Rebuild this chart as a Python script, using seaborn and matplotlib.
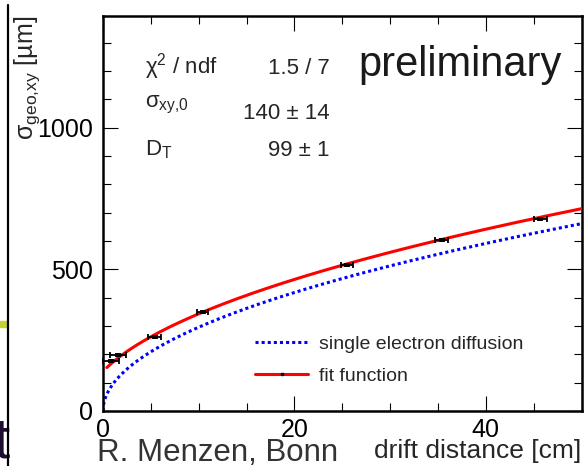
import numpy as np
import pandas as pd
import matplotlib
matplotlib.use("Agg")
import matplotlib.pyplot as plt
from matplotlib.lines import Line2D
from matplotlib.patches import Rectangle
from matplotlib.ticker import MultipleLocator
import seaborn as sns

# ---------------- data ----------------
drift_cm = [0.8, 1.6, 5.4, 10.4, 25.5, 35.4, 45.7]
sigma_um = [177, 197, 262, 350, 516, 604, 677]
drift_err_cm = [0.85, 0.85, 0.7, 0.6, 0.63, 0.7, 0.65]
sigma_err_um = [4, 4, 4, 4, 4, 4, 4]

# fit parameters shown in the chart
sigma0_fit = 140.0      # um
DT_fit = 99.0           # um / sqrt(cm)
DT_single = 93.5        # um / sqrt(cm), single electron diffusion curve
fit_range = (0.4, 50.0)
diff_range = (0.0, 50.0)

x_ticks_major = [0, 20, 40]
y_ticks_major = [0, 500, 1000]

stats_labels = [r"$\mathregular{χ^2}$ / ndf", r"$\mathregular{σ_{xy{,}0}}$", r"$\mathregular{D_T}$"]
stats_values = ["1.5 / 7", "140 ± 14", "99 ± 1"]
legend_labels = ["single electron diffusion", "fit function"]

# ---------------- style ----------------
sns.set_theme(style="ticks")
plt.rcParams["font.family"] = ["Liberation Sans", "DejaVu Sans"]
plt.rcParams["mathtext.fontset"] = "custom"
plt.rcParams["mathtext.rm"] = "Liberation Sans"
plt.rcParams["mathtext.it"] = "Liberation Sans"

W, H = 584, 466
def fx(px):
    return px / W
def fy(py):
    return 1 - py / H

fig = plt.figure(figsize=(W / 100, H / 100), dpi=100)
fig.patch.set_facecolor("white")
ax = fig.add_axes([fx(103), fy(411), (581.5 - 103) / W, (411 - 15.7) / H])

# curves
xf = np.linspace(fit_range[0], fit_range[1], 400)
fit_df = pd.DataFrame({"x": xf, "y": np.sqrt(sigma0_fit ** 2 + DT_fit ** 2 * xf)})
xd = np.linspace(diff_range[0], diff_range[1], 800)
diff_df = pd.DataFrame({"x": xd, "y": DT_single * np.sqrt(xd)})

sns.lineplot(data=diff_df, x="x", y="y", ax=ax, color="#0000ff", lw=2.2,
             linestyle=(0, (1.0, 1.0)), zorder=2)
sns.lineplot(data=fit_df, x="x", y="y", ax=ax, color="#ff0000", lw=2.2, zorder=3)

ax.errorbar(drift_cm, sigma_um, xerr=drift_err_cm, yerr=sigma_err_um, fmt="none",
            ecolor="black", elinewidth=1.3, capsize=2.3, capthick=1.3, zorder=4,
            clip_on=False)
sns.scatterplot(x=drift_cm, y=sigma_um, ax=ax, color="black", marker="s", s=6,
                linewidth=0, zorder=5)

ax.set_xlim(0, 50)
ax.set_ylim(0, 1395)
ax.xaxis.set_major_locator(MultipleLocator(20))
ax.xaxis.set_minor_locator(MultipleLocator(5))
ax.yaxis.set_major_locator(MultipleLocator(500))
ax.yaxis.set_minor_locator(MultipleLocator(100))
ax.set_xticks(x_ticks_major)
ax.set_xticklabels([str(v) for v in x_ticks_major])
ax.set_yticks(y_ticks_major)
ax.set_yticklabels([str(v) for v in y_ticks_major])

ax.tick_params(which="both", direction="in", top=True, right=True, colors="black",
               width=0.8, labelsize=18)
ax.tick_params(which="major", length=10.5)
ax.tick_params(which="minor", length=5.5)
ax.tick_params(axis="y", which="major", pad=7)
ax.tick_params(axis="x", which="major", pad=5)
for sp in ax.spines.values():
    sp.set_linewidth(1.8)
    sp.set_color("black")

ax.set_xlabel("drift distance [cm]", fontsize=19, loc="right")
ax.xaxis.set_label_coords(1.0, -0.072)
ax.set_ylabel(r"$\mathregular{σ_{geo{,}xy}}$ [µm]", fontsize=18, loc="top")
ax.yaxis.set_label_coords(-0.128, 1.0)

# legend
handles = [
    Line2D([], [], color="#0000ff", lw=2.2, linestyle=(0, (1.0, 1.0))),
    Line2D([], [], color="#ff0000", lw=2.2, marker="s", ms=2, mfc="black", mec="black"),
]
fig.legend(handles, legend_labels, loc="upper left", bbox_to_anchor=(fx(255), fy(335)),
           frameon=False, fontsize=14, handlelength=2.75, handletextpad=0.55,
           labelspacing=0.74, borderpad=0, borderaxespad=0, numpoints=1)

# stats box text
label_base = [74, 107, 155]
value_base = [74, 119, 156]
for lab, val, bl, bv in zip(stats_labels, stats_values, label_base, value_base):
    fig.text(fx(145), fy(bl), lab, fontsize=16, ha="left", va="baseline")
    fig.text(fx(330), fy(bv), val, fontsize=16, ha="right", va="baseline")

fig.text(fx(358), fy(76), "preliminary", fontsize=30, color="#1a1a1a",
         ha="left", va="baseline")
fig.text(fx(97), fy(461), "R. Menzen, Bonn", fontsize=22.5, color="#333333",
         ha="left", va="baseline")

# slide artifacts on the left edge
fig.text(fx(-7), fy(458), "t", fontsize=42, color="#1e0f32", ha="left", va="baseline")
fig.add_artist(Rectangle((0, fy(327)), fx(7), (327 - 321) / H, color="#c5d12f",
                         transform=fig.transFigure, zorder=5))
fig.add_artist(Line2D([fx(8), fx(8)], [fy(5), fy(466)], color="black", lw=1.6,
                      transform=fig.transFigure, zorder=6))

fig.savefig("out.png", dpi=100)
